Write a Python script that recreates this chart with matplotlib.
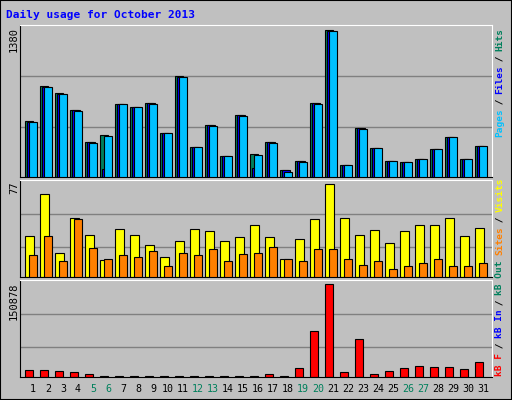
import matplotlib
matplotlib.use("Agg")
import matplotlib.pyplot as plt
from matplotlib.patches import Rectangle
import numpy as np

days = list(range(1, 32))
weekend = [5, 6, 12, 13, 19, 20, 26, 27]
hits = [521, 855, 784, 631, 331, 397, 687, 659, 696, 415, 949, 284, 490, 200, 584,
        219, 331, 69, 153, 696, 1380, 116, 462, 275, 153, 144, 172, 265, 378, 172, 293]
files = [516, 846, 776, 625, 328, 75, 680, 652, 689, 411, 940, 281, 485, 198, 578,
         84, 328, 68, 151, 689, 1366, 115, 457, 272, 151, 143, 170, 262, 374, 170, 290]
pages = [512, 845, 775, 618, 322, 388, 680, 659, 687, 415, 940, 284, 482, 200, 575,
         210, 319, 50, 144, 687, 1362, 110, 453, 275, 153, 141, 165, 265, 378, 165, 293]
visits = [34, 69, 20, 49, 35, 14, 40, 35, 27, 17, 30, 40, 38, 30, 33,
          43, 33, 15, 32, 48, 77, 49, 35, 39, 28, 38, 43, 43, 49, 34, 41]
sites = [18, 34, 13, 48, 24, 15, 18, 17, 22, 9, 20, 18, 23, 13, 19,
         20, 25, 15, 13, 23, 23, 15, 10, 13, 7, 9, 12, 15, 9, 9, 12]
kbytes = [11606, 11606, 9948, 8290, 4974, 1658, 1658, 1658, 1658, 1658, 1658, 1658, 1658, 1658, 1658,
          1658, 4974, 1658, 14922, 74610, 150878, 8290, 61347, 4974, 9948, 14922, 18238, 16580, 16580, 13264, 24870]

BG = "#C0C0C0"
GREEN = "#00805C"
W, H = 512, 400
XL, XR = 0.267, 31.73
fig = plt.figure(figsize=(5.12, 4.0), dpi=100, facecolor=BG)
fig.patches.append(Rectangle((0, 0), 1, 1, transform=fig.transFigure, fill=False,
                             edgecolor="black", linewidth=1.5))

def px_axes(x0, y0, x1, y1):
    ax = fig.add_axes([x0 / W, (H - y1) / H, (x1 - x0) / W, (y1 - y0) / H])
    ax.set_facecolor(BG)
    ax.set_xlim(XL, XR)
    ax.set_xticks([])
    ax.set_yticks([])
    for s in ["left", "bottom"]:
        ax.spines[s].set_color("black")
    for s in ["top", "right"]:
        ax.spines[s].set_color("white")
    return ax

mono = "DejaVu Sans Mono"
x = np.array(days)

# top panel
ax1 = px_axes(20, 25, 492, 177)
top1 = 1380 / 0.97
ax1.set_ylim(0, top1)
for f in (0.33, 0.665):
    ax1.axhline(f * top1, color="#808080", lw=1, zorder=0)
ax1.bar(x - 0.12, hits, width=0.51, color=GREEN, edgecolor="black", lw=0.8, zorder=2)
ax1.bar(x - 0.02, files, width=0.51, color="#0000FF", edgecolor="black", lw=0.8, zorder=3)
ax1.bar(x + 0.11, pages, width=0.53, color="#00C0FF", edgecolor="black", lw=0.8, zorder=4)

# middle panel
ax2 = px_axes(20, 180, 492, 277)
top2 = 77 / 0.955
ax2.set_ylim(0, top2)
for f in (0.31, 0.65):
    ax2.axhline(f * top2, color="#808080", lw=1, zorder=0)
ax2.bar(x - 0.10, visits, width=0.56, color="#FFFF00", edgecolor="black", lw=0.8, zorder=2)
ax2.bar(x + 0.12, sites, width=0.51, color="#FF8000", edgecolor="black", lw=0.8, zorder=3)

# bottom panel
ax3 = px_axes(20, 280, 492, 377)
top3 = 150878 / 0.958
ax3.set_ylim(0, top3)
for f in (0.31, 0.65):
    ax3.axhline(f * top3, color="#808080", lw=1, zorder=0)
ax3.bar(x - 0.13, kbytes, width=0.49, color="#FF0000", edgecolor="black", lw=0.8, zorder=2)

# x labels
for d in days:
    px = 20 + (d + 0.13 - XL) / (XR - XL) * 472
    fig.text(px / W, (H - 389) / H, str(d), ha="center", va="center", fontsize=7.2,
             family=mono, color=GREEN if d in weekend else "black")

# title
fig.text(6 / W, (H - 15) / H, "Daily usage for October 2013", fontsize=8,
         family=mono, weight="bold", color="#0000FF", va="center", ha="left")

# y max labels
for lab, ytop in (("1380", 27), ("77", 182), ("150878", 282)):
    fig.text(14 / W, (H - ytop) / H, lab, rotation=90, ha="center", va="top",
             fontsize=7.5, family=mono, color="black")

# right legends (bottom to top)
ADV = 5.4
def legend(pieces, ybottom):
    pos = ybottom
    for txt, col in pieces:
        fig.text(500 / W, (H - pos) / H, txt, rotation=90, rotation_mode="anchor",
                 ha="left", va="center", fontsize=6.8, family=mono, color=col,
                 weight="bold")
        pos -= ADV * len(txt)

legend([("Pages", "#00C0FF"), (" / ", "black"), ("Files", "#0000FF"),
        (" / ", "black"), ("Hits", GREEN)], 137)
legend([("Sites", "#FF8000"), (" / ", "black"), ("Visits", "#FFFF00")], 255)
legend([("kB F", "#FF0000"), (" / ", "black"), ("kB In", "#0000FF"),
        (" / ", "black"), ("kB Out", GREEN)], 376)

fig.savefig("out.png", dpi=100, facecolor=BG)
